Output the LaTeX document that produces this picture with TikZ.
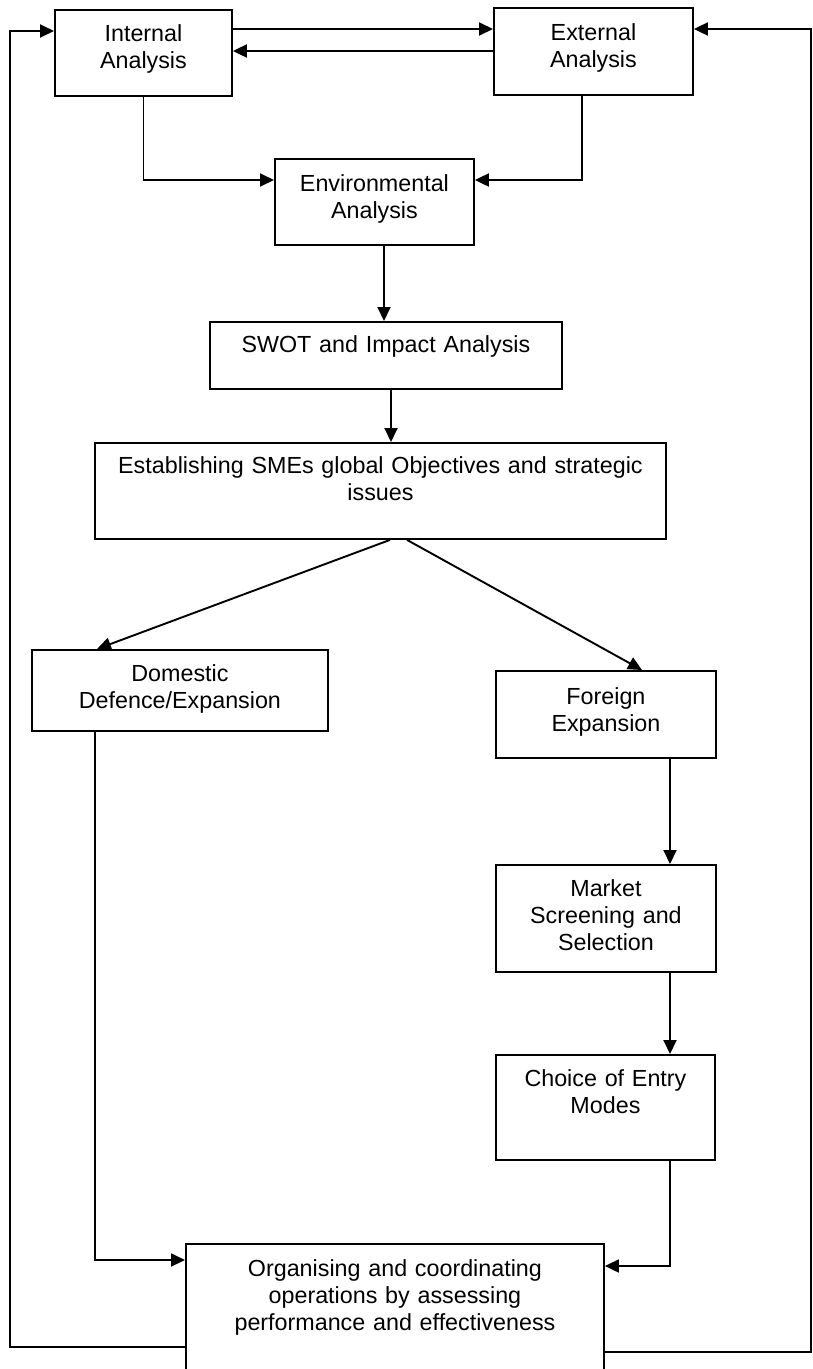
\documentclass[tikz,border=0pt]{standalone}
\usepackage{fontspec}
\setmainfont{Liberation Sans}
\usetikzlibrary{arrows.meta}
\begin{document}
\begin{tikzpicture}[x=1pt,y=-1pt,line width=1.9pt,>={Triangle[length=14pt,width=13pt]}]
            \tikzstyle{box}=[draw, anchor=north west, inner sep=0pt, align=center, font=\fontsize{23.3}{27}\selectfont]
            \useasboundingbox (0,0) rectangle (813,1369);
            \clip (0,0) rectangle (813,1369);
            \node[box, text width=177pt, text height=32pt, text depth=54pt] (intan) at (54,9) {Internal\\Analysis};
            \node[box, text width=199pt, text height=33pt, text depth=54pt] (extan) at (493,7) {External\\Analysis};
            \node[box, text width=199pt, text height=33pt, text depth=53pt] (envan) at (274,158) {Environmental\\Analysis};
            \node[box, text width=352pt, text height=31pt, text depth=36pt] (swot) at (209,321) {SWOT and Impact Analysis};
            \node[box, text width=571pt, text height=31pt, text depth=65pt] (estab) at (94,442) {Establishing SMEs global Objectives and strategic\\issues};
            \node[box, text width=296pt, text height=32pt, text depth=49pt] (domestic) at (31,649) {Domestic\\Defence/Expansion};
            \node[box, text width=220pt, text height=34pt, text depth=53pt] (foreign) at (495,670) {Foreign\\Expansion};
            \node[box, text width=220pt, text height=32pt, text depth=75pt] (market) at (495,864) {Market\\Screening and\\Selection};
            \node[box, text width=219pt, text height=32pt, text depth=73pt] (entry) at (495,1054) {Choice of Entry\\Modes};
            \node[box, text width=418pt, text height=33pt, text depth=150pt] (organ) at (185,1243) {Organising and coordinating\\operations by assessing\\performance and effectiveness};
            \coordinate (fbl) at (10,31);
            \coordinate (fbr) at (811,29);
            \path [->] (intan.east |- 0,29) edge[] (extan.west |- 0,29);
            \path [->] (extan.west |- 0,51) edge[] (intan.east |- 0,51);
            \draw [->] (intan.south) |- (envan.west |- 0,180);
            \draw [->] (extan.south -| 582,0) |- (envan.east |- 0,180);
            \path [->] (envan.south -| 384,0) edge[] (swot.north -| 384,0);
            \path [->] (swot.south -| 391,0) edge[] (estab.north -| 391,0);
            \path [->] (estab.south -| 390,0) edge[] (domestic.north -| 97,0);
            \path [->] (estab.south -| 407,0) edge[] (foreign.north -| 642,0);
            \path [->] (foreign.south -| 670,0) edge[] (market.north -| 670,0);
            \path [->] (market.south -| 670,0) edge[] (entry.north -| 670,0);
            \draw [->] (entry.south -| 670,0) |- (organ.east |- 0,1266);
            \draw [->] (domestic.south -| 95,0) |- (organ.west |- 0,1260);
            % feedback loops
            \draw [->] (organ.west |- 0,1347) -| (fbl) -- (intan.west |- fbl);
            \draw [->] (organ.east |- 0,1352) -| (fbr) -- (extan.east |- fbr);
        \end{tikzpicture}
\end{document}
